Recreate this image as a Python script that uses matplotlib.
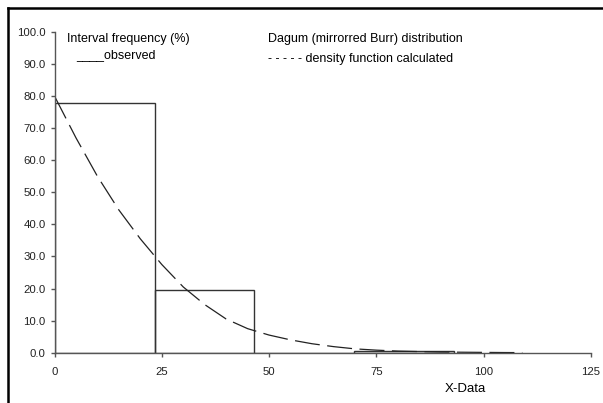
import numpy as np
import matplotlib.pyplot as plt
from matplotlib.lines import Line2D

plt.rcParams['font.family'] = ['Liberation Sans', 'DejaVu Sans']

# observed interval frequencies (%)
bin_left = [0.0, 23.3, 46.6, 69.9]
bin_width = 23.3
observed = [77.8, 19.5, 0.0, 0.4]

# calculated Dagum density (scaled to %)
curve_x = [0, 5, 10, 15, 20, 25, 30, 35, 40, 45, 50, 55, 60, 65, 70,
           75, 80, 85, 90, 95, 100, 105, 109]
curve_y = [80.0, 67.0, 55.0, 44.5, 35.5, 27.5, 20.5, 15.0, 10.5, 7.5, 5.5,
           4.0, 2.8, 1.9, 1.2, 0.8, 0.5, 0.35, 0.2, 0.15, 0.1, 0.05, 0.03]

x_ticks = [0, 25, 50, 75, 100, 125]
y_ticks = np.arange(0, 101, 10)

fig = plt.figure(figsize=(6.03, 4.03), dpi=100)
ax = fig.add_axes([0.0904, 0.1248, 0.8896, 0.7958])

ax.bar(bin_left, observed, width=bin_width, align='edge',
       facecolor='none', edgecolor='#333333', linewidth=1.0)
ax.plot(curve_x, curve_y, color='#222222', linewidth=0.9,
        linestyle=(0, (20, 6)))

ax.set_xlim(0, 125)
ax.set_ylim(0, 100)
ax.set_xticks(x_ticks)
ax.set_xticklabels([str(t) for t in x_ticks])
ax.set_yticks(y_ticks)
ax.set_yticklabels(['%.1f' % t for t in y_ticks])
for s in ['top', 'right']:
    ax.spines[s].set_visible(False)
for s in ['left', 'bottom']:
    ax.spines[s].set_color('#555555')
    ax.spines[s].set_linewidth(1.0)
ax.tick_params(direction='out', length=3, width=1.0, color='#555555',
               labelsize=8.2, labelcolor='#222222')
ax.tick_params(axis='x', pad=7)
ax.set_xlabel('X-Data', fontsize=9.5)
ax.xaxis.set_label_coords(0.766, -0.095)

fig.text(0.111, 0.895, 'Interval frequency (%)', fontsize=9)
fig.text(0.127, 0.855, '____observed', fontsize=9)
fig.text(0.444, 0.895, 'Dagum (mirrorred Burr) distribution', fontsize=9)
fig.text(0.444, 0.845, '- - - - - density function calculated', fontsize=9)

# outer chart border (top and left only visible)
fig.add_artist(Line2D([0.013, 1.0], [0.981, 0.981], color='black',
                      linewidth=1.8, transform=fig.transFigure))
fig.add_artist(Line2D([0.014, 0.014], [0.0, 0.981], color='black',
                      linewidth=1.8, transform=fig.transFigure))

fig.savefig('out.png', dpi=100)
